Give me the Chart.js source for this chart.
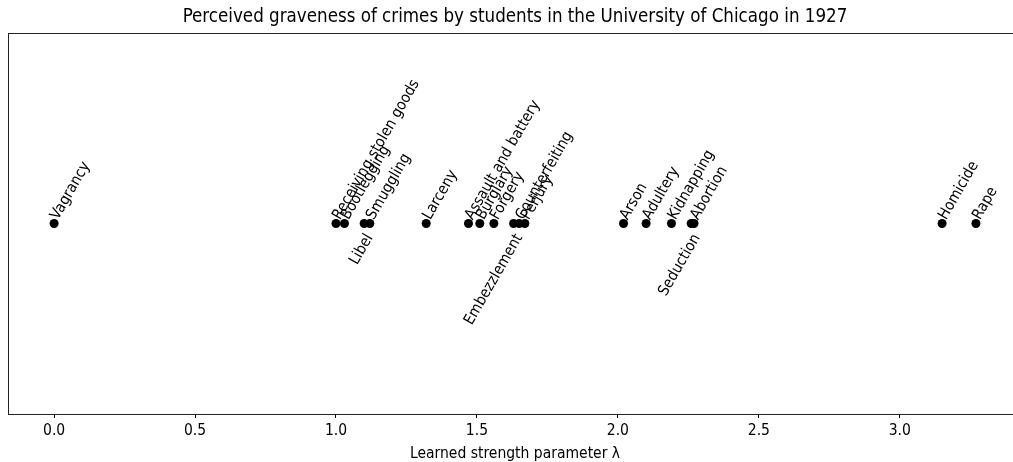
<!DOCTYPE html>
<html><head><meta charset="utf-8">
<script src="https://cdn.jsdelivr.net/npm/chart.js@4/dist/chart.umd.min.js"></script>
<style>
html,body{margin:0;padding:0;background:#fff;overflow:hidden;}
#wrap{width:1030px;height:462px;position:relative;}
</style></head><body>
<div id="wrap"><canvas id="c"></canvas></div>
<script>
// Learned strength parameter per crime (Thurstone survey, 1927)
const crimes = ['Vagrancy','Receiving stolen goods','Bootlegging','Libel','Smuggling','Larceny',
  'Assault and battery','Burglary','Forgery','Embezzlement','Counterfeiting','Perjury',
  'Arson','Adultery','Kidnapping','Seduction','Abortion','Homicide','Rape'];
const strength = [0.00,1.00,1.03,1.10,1.12,1.32,1.47,1.51,1.56,1.63,1.65,1.67,2.02,2.10,2.19,2.26,2.27,3.15,3.27];
const xTicks = [0,0.5,1,1.5,2,2.5,3];
// names whose label hangs below-left of the point instead of above-right
const hangingLabels = ['Libel','Embezzlement','Seduction'];

const FONT = '"DejaVu Sans Condensed", "DejaVu Sans", sans-serif';
const LABEL_PX = 15.3;
const ANGLE = 60 * Math.PI / 180;

const lo = Math.min(...strength), hi = Math.max(...strength);
const margin = (hi - lo) * 0.05;

const frame = {
  id: 'frame',
  beforeDatasetsDraw(chart) {
    const a = chart.chartArea, ctx = chart.ctx;
    ctx.save();
    ctx.strokeStyle = '#222';
    ctx.lineWidth = 1;
    ctx.strokeRect(Math.round(a.left) + 0.5, Math.round(a.top) + 0.5, a.right - a.left, a.bottom - a.top);
    ctx.restore();
  }
};

const crimeLabels = {
  id: 'crimeLabels',
  afterDatasetsDraw(chart) {
    const ctx = chart.ctx, pts = chart.getDatasetMeta(0).data;
    ctx.save();
    ctx.font = LABEL_PX + 'px ' + FONT;
    ctx.fillStyle = '#000';
    crimes.forEach((name, i) => {
      const p = pts[i];
      ctx.save();
      if (hangingLabels.includes(name)) {
        // top-right corner of the label sits just below the point
        ctx.translate(p.x - 1, p.y + 8);
        ctx.rotate(-ANGLE);
        ctx.textAlign = 'right'; ctx.textBaseline = 'top';
      } else {
        // baseline starts just above-right of the point
        ctx.translate(p.x + 4, p.y - 3);
        ctx.rotate(-ANGLE);
        ctx.textAlign = 'left'; ctx.textBaseline = 'alphabetic';
      }
      ctx.fillText(name, 0, 0);
      ctx.restore();
    });
    ctx.restore();
  }
};

new Chart(document.getElementById('c'), {
  type: 'scatter',
  data: {
    datasets: [{
      data: strength.map(v => ({ x: v, y: 0 })),
      backgroundColor: '#000',
      borderWidth: 0,
      pointRadius: 4.5,
      pointHoverRadius: 4.5
    }]
  },
  options: {
    responsive: true,
    maintainAspectRatio: false,
    animation: false,
    devicePixelRatio: 1,
    layout: { padding: { left: 8, right: 8, top: 0, bottom: 0 } },
    plugins: {
      legend: { display: false },
      tooltip: { enabled: false },
      title: {
        display: true,
        text: 'Perceived graveness of crimes by students in the University of Chicago in 1927',
        color: '#000',
        font: { family: FONT, size: 18.6, weight: 'normal', lineHeight: 1.2 },
        padding: { top: 6, bottom: 4.7 }
      }
    },
    scales: {
      x: {
        type: 'linear',
        min: lo - margin,
        max: hi + margin,
        afterBuildTicks: axis => { axis.ticks = xTicks.map(v => ({ value: v })); },
        border: { display: false },
        grid: { drawOnChartArea: false, drawTicks: true, tickLength: 4, color: '#000', tickColor: '#000' },
        ticks: {
          color: '#000',
          font: { family: FONT, size: 15.5, lineHeight: 1 },
          padding: 5,
          maxRotation: 0,
          callback: v => Number(v).toFixed(1)
        },
        title: {
          display: true,
          text: 'Learned strength parameter λ',
          color: '#000',
          font: { family: FONT, size: 15.5, lineHeight: 1 },
          padding: { top: 3, bottom: 0 }
        }
      },
      y: { display: false, min: -1, max: 1 }
    }
  },
  plugins: [frame, crimeLabels]
});
</script>
</body></html>
